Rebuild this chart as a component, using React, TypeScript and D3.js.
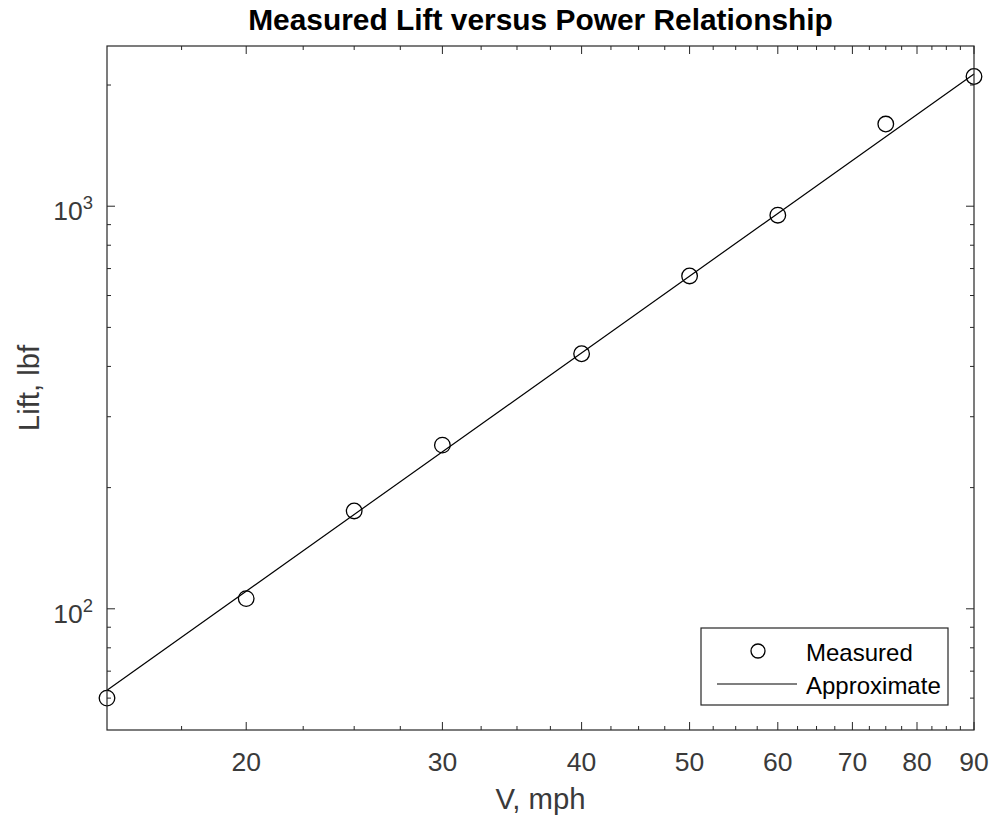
import React from "react";
import * as d3 from "d3";

const speedMph = [15, 20, 25, 30, 40, 50, 60, 75, 90];
const measuredLift = [60, 106, 175, 255, 430, 671, 950, 1600, 2100];
const approxSpeed = [15, 90];
const approxLift = [62.8, 2130];

const xMajorTicks = [20, 30, 40, 50, 60, 70, 80, 90];
const xMinorTicks = [17.5, 22.5, 25, 27.5, 32.5, 35, 37.5, 42.5, 45, 47.5, 52.5, 55, 57.5, 62.5, 65, 67.5, 72.5, 75, 77.5, 82.5, 85, 87.5];
const yMajorTicks = [100, 1000];
const yMajorExp = ["2", "3"];
const yMinorTicks = [60, 70, 80, 90, 200, 300, 400, 500, 600, 700, 800, 900, 2000];

const xDomain = [15, 90];
const yDomain = [50, 2500];

const W = 995, H = 822;
const L = 107, R = 974, T = 46, B = 730;
const AX = "#262626";
const TXT = "#3a3a3a";
const FONT = "'Liberation Sans', Arial, Helvetica, sans-serif";

export default function App() {
  const x = d3.scaleLog().domain(xDomain).range([L, R]);
  const y = d3.scaleLog().domain(yDomain).range([B, T]);
  const line = d3.line<[number, number]>().x(d => x(d[0])).y(d => y(d[1]));
  const approxPts: [number, number][] = approxSpeed.map((v, i) => [v, approxLift[i]]);
  const major = 8, minor = 4;
  return (
    <div style={{ position: "absolute", left: 0, top: 0 }}>
      <svg width={W} height={H} style={{ display: "block", background: "#fff" }} fontFamily={FONT}>
        <rect x={0} y={0} width={W} height={H} fill="#fff" />
        <text x={(L + R) / 2} y={30} textAnchor="middle" fontWeight="bold" fontSize={29.9} fill="#000">
          Measured Lift versus Power Relationship
        </text>
        {/* ticks */}
        <g stroke={AX} strokeWidth={1}>
          {xMajorTicks.map(v => (
            <g key={"xM" + v}>
              <line x1={x(v)} x2={x(v)} y1={B} y2={B - major} />
              <line x1={x(v)} x2={x(v)} y1={T} y2={T + major} />
            </g>
          ))}
          {xMinorTicks.map(v => (
            <g key={"xm" + v}>
              <line x1={x(v)} x2={x(v)} y1={B} y2={B - minor} />
              <line x1={x(v)} x2={x(v)} y1={T} y2={T + minor} />
            </g>
          ))}
          {yMajorTicks.map(v => (
            <g key={"yM" + v}>
              <line x1={L} x2={L + major} y1={y(v)} y2={y(v)} />
              <line x1={R} x2={R - major} y1={y(v)} y2={y(v)} />
            </g>
          ))}
          {yMinorTicks.map(v => (
            <g key={"ym" + v}>
              <line x1={L} x2={L + minor} y1={y(v)} y2={y(v)} />
              <line x1={R} x2={R - minor} y1={y(v)} y2={y(v)} />
            </g>
          ))}
        </g>
        {/* tick labels */}
        <g fill={TXT} fontSize={26.5}>
          {xMajorTicks.map(v => (
            <text key={"xl" + v} x={x(v)} y={771} textAnchor="middle">{v}</text>
          ))}
          {yMajorTicks.map((v, i) => (
            <text key={"yl" + v} x={93} y={y(v) + 14} textAnchor="end">
              10<tspan fontSize={18.5} dy={-11}>{yMajorExp[i]}</tspan>
            </text>
          ))}
        </g>
        {/* axis labels */}
        <text x={(L + R) / 2} y={809} textAnchor="middle" fontSize={29.3} fill={TXT}>V, mph</text>
        <text transform={`translate(39,${(T + B) / 2}) rotate(-90)`} textAnchor="middle" fontSize={29.3} fill={TXT}>Lift, lbf</text>
        {/* data */}
        <path d={line(approxPts) || ""} fill="none" stroke="#000" strokeWidth={1.2} />
        {speedMph.map((v, i) => (
          <circle key={"c" + v} cx={x(v)} cy={y(measuredLift[i])} r={7.8} fill="none" stroke="#000" strokeWidth={1.3} />
        ))}
        {/* frame */}
        <rect x={L} y={T} width={R - L} height={B - T} fill="none" stroke={AX} strokeWidth={1.2} />
        {/* legend */}
        <g>
          <rect x={701} y={628} width={247} height={77} fill="#fff" stroke={AX} strokeWidth={1.2} />
          <circle cx={758} cy={651} r={7} fill="none" stroke="#000" strokeWidth={1.3} />
          <line x1={717} x2={797} y1={684} y2={684} stroke="#000" strokeWidth={1.2} />
          <text x={806} y={661} fontSize={24} fill="#000">Measured</text>
          <text x={806} y={694} fontSize={24} fill="#000">Approximate</text>
        </g>
      </svg>
    </div>
  );
}
